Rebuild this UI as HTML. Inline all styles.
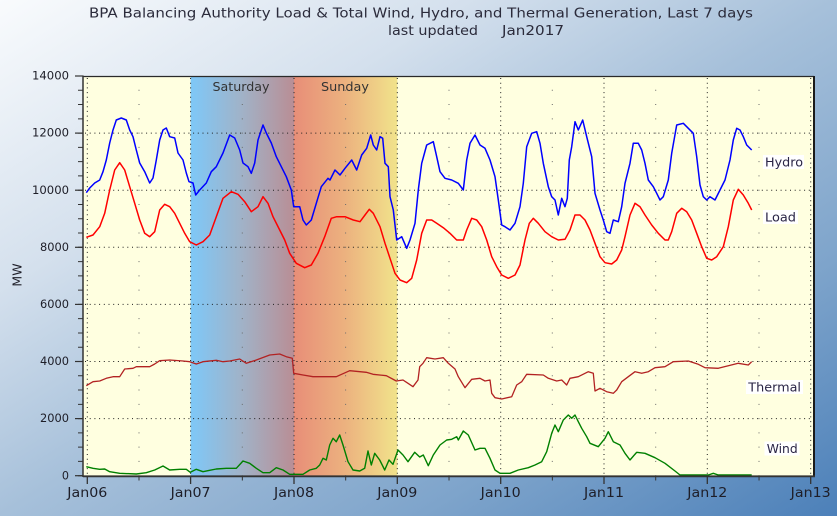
<!DOCTYPE html>
<html>
<head>
<meta charset="utf-8">
<style>
  html,body{margin:0;padding:0;}
  body{width:837px;height:516px;overflow:hidden;
    background:linear-gradient(to bottom right,#f9fbfd 0%,#d4e0ed 28%,#a6c0da 50%,#7ea4cb 75%,#4c80b9 100%);}
  svg{display:block;}
  text{font-family:"DejaVu Sans","Liberation Sans",sans-serif;}
</style>
</head>
<body>
<svg width="837" height="516" viewBox="0 0 837 516" xmlns="http://www.w3.org/2000/svg">
  <defs>
    <linearGradient id="sat" x1="0" y1="0" x2="1" y2="0">
      <stop offset="0" stop-color="#7ec8f8"/>
      <stop offset="0.5" stop-color="#a1b2c7"/>
      <stop offset="1" stop-color="#b98e95"/>
    </linearGradient>
    <linearGradient id="sun" x1="0" y1="0" x2="1" y2="0">
      <stop offset="0" stop-color="#e88e78"/>
      <stop offset="0.5" stop-color="#ecb27f"/>
      <stop offset="1" stop-color="#f1e38b"/>
    </linearGradient>
  </defs>

  <!-- Title -->
  <text x="89" y="17.5" font-size="13" fill="#2b2b3b" textLength="664" lengthAdjust="spacingAndGlyphs">BPA Balancing Authority Load &amp; Total Wind, Hydro, and Thermal Generation, Last 7 days</text>
  <text x="388" y="35" font-size="13" fill="#2b2b3b" textLength="90" lengthAdjust="spacingAndGlyphs">last updated</text>
  <text x="502" y="35" font-size="13" fill="#2b2b3b" textLength="62" lengthAdjust="spacingAndGlyphs">Jan2017</text>

  <!-- Plot background -->
  <rect x="83" y="76" width="731" height="400" fill="#ffffe0"/>
  <rect x="190.6" y="76" width="103.4" height="400" fill="url(#sat)"/>
  <rect x="294" y="76" width="103.3" height="400" fill="url(#sun)"/>

  <!-- Sparse half-day dots -->
  <g stroke="#6a6a6a" stroke-width="1" stroke-dasharray="1 13.275">
    <line x1="139" y1="476.2" x2="139" y2="76"/>
    <line x1="242.3" y1="476.2" x2="242.3" y2="76"/>
    <line x1="345.6" y1="476.2" x2="345.6" y2="76"/>
    <line x1="449" y1="476.2" x2="449" y2="76"/>
    <line x1="552.3" y1="476.2" x2="552.3" y2="76"/>
    <line x1="655.7" y1="476.2" x2="655.7" y2="76"/>
    <line x1="759" y1="476.2" x2="759" y2="76"/>
  </g>

  <!-- Dense grid -->
  <g stroke="#1e1e1e" stroke-width="1" stroke-dasharray="1 3.7">
    <line x1="87.3" y1="78" x2="87.3" y2="476"/>
    <line x1="190.6" y1="78" x2="190.6" y2="476"/>
    <line x1="294" y1="78" x2="294" y2="476"/>
    <line x1="397.3" y1="78" x2="397.3" y2="476"/>
    <line x1="500.7" y1="78" x2="500.7" y2="476"/>
    <line x1="604" y1="78" x2="604" y2="476"/>
    <line x1="707.3" y1="78" x2="707.3" y2="476"/>
    <line x1="810.7" y1="78" x2="810.7" y2="476"/>
    <line x1="85" y1="418.6" x2="814" y2="418.6"/>
    <line x1="85" y1="361.5" x2="814" y2="361.5"/>
    <line x1="85" y1="304.4" x2="814" y2="304.4"/>
    <line x1="85" y1="247.3" x2="814" y2="247.3"/>
    <line x1="85" y1="190.2" x2="814" y2="190.2"/>
    <line x1="85" y1="133.1" x2="814" y2="133.1"/>
  </g>

  <!-- Day labels -->
  <text x="212.5" y="91" font-size="12" fill="#333" textLength="57" lengthAdjust="spacingAndGlyphs">Saturday</text>
  <text x="321" y="91" font-size="12" fill="#333" textLength="48" lengthAdjust="spacingAndGlyphs">Sunday</text>

  <!-- Series -->
  <g fill="none" stroke-width="1.5" stroke-linejoin="round">
    <polyline stroke="#0000ff" points="86.3,192.7 89.7,188 94.7,183 99.7,180 103,171.7 106.3,160 109.7,143 113,130 116.3,120 121.3,118 126.3,120 129.7,130 133,136.7 136.3,150 139.7,163 144.7,171.7 149.7,183 153,178 156.3,160 159.7,140 163,130 166.3,128 169.7,136.7 174.7,138 178,153 183,160 186.3,173 189,181.7 193,183 195.7,195 199.7,190 206.3,183 211.3,171.7 216.3,166.7 223,153 229.7,135 234.7,138 239.7,150 243,163 248,166.7 251.3,173.3 254.7,163 258,140 263,125 266.3,133 271.3,143 276.3,156.7 281.3,166.7 286.3,176.7 291.3,190 293.7,206.7 299.7,206.7 303,220 306.3,225 311.3,220 316.3,203.3 321.3,186.7 328,178.3 330,180 335,170 340,175 345,168.3 351.7,160 356.7,170 361.7,155 366.7,148.3 370.7,135 373.3,145 376.7,150 380,136.7 382.7,138.3 385,163.3 388.3,166.7 390,196.7 393.3,210 396.7,240 401.7,236.7 406.7,248.3 410,240 415,223.3 418.3,190 421.7,163.3 426.7,145 433.3,141.7 436.7,156.7 440,171.7 445,178.3 451.7,180 458.3,183.3 463.3,190 466.7,160 470,143.3 475,135 480,145 485,148.3 490,160 495,176.7 498.3,200 501.7,225 505,226.7 510,230 515,223.3 520,206.7 523.3,183.3 526.7,146.7 531.7,133.3 536.7,131.7 540,143.3 543.3,163.3 548.3,186.7 551.7,196.7 555,200 558.3,215 561.7,198.3 565,206.7 567.3,198.3 569.3,160 571.7,146.7 575,121.7 578.3,130 582.7,120 586.7,136.7 591.7,156.7 595,193.3 600,210 603.3,220 606.7,231.7 610,233.3 613.3,220 618.3,221.7 621.7,206.7 625,183.3 630,163.3 633.3,143.3 638.3,143.3 641.7,150 645,163.3 648.3,180 653.3,186.7 656.7,193.3 660,200 663.3,196.7 668.3,180 671.7,153.3 676.7,125 683.3,123.3 688.3,128.3 693.3,133.3 696.7,156.7 700,185 703.3,196.7 706.7,200 710,196.7 715,200 720,190 725,180 730,160 733.3,140 736.7,128.3 740,130 743.3,136.7 746.7,145 751.7,150"/>
    <polyline stroke="#ff0000" points="86.3,237.3 93,235 99.7,226.7 104.7,213.3 109.7,190 114.7,170 119.7,162.7 124.7,170 129.7,186.7 134.7,203.3 139.7,220 144.7,233.3 149.7,236.7 154.7,231.7 159.7,210 164.7,204.3 169.7,206.7 174.7,213.3 179.7,223.3 184.7,233.3 189.7,241.7 196.3,245 203,241.7 209.7,235 216.3,216.7 223,198.3 231.3,191.7 238,194.3 244.7,201.7 251.3,211.7 258,206.7 263,196.7 268,203.3 273,216.7 279.7,230 284.7,240 289.7,253.3 296.3,263.3 304.7,267.7 311.3,265 318,253.3 324.7,236.7 331.3,218.3 336.7,216.7 345,216.7 353.3,220 360,221.7 365,215 369.3,209.3 373.3,213.3 380,226.7 385,243.3 390,258.3 395,273.3 400,280 406.7,282.7 411.7,278.3 416.7,260 421.7,233.3 426.7,220 431.7,220 436.7,223.3 443.3,227.7 450,233.3 456.7,240 463.3,240 466.7,230 471.7,218.3 476.7,220 481.7,226.7 486.7,240 491.7,256.7 496.7,266.7 501.7,275 508.3,278.3 515,275 520,265 525,240 529.3,223.3 533.3,218.3 538.3,223.3 545,231.7 551.7,236.7 558.3,240 565,239.3 570,230 575,215 580,215 585,220 590,230 595,243.3 600,256.7 605,262.7 611.7,264 616.7,260 621.7,250 625,236.7 630,215 635,203.3 640,206.7 645,215 651.7,225 658.3,233.3 665,240 668.3,240 671.7,231.7 676.7,213.3 681.7,208.3 686.7,211.7 691.7,220 696.7,233.3 701.7,246.7 706.7,258.3 711.7,260 716.7,256.7 723.3,246.7 728.3,226.7 733.3,200 738.3,189.3 743.3,195 748.3,203.3 751.7,210"/>
    <polyline stroke="#b22222" stroke-width="1.3" points="86.3,385.7 93,381.7 99.7,381 106.3,378.3 113,376.7 119.7,376.7 124.7,369 133,368.3 136.3,366.7 149.7,366.7 154.7,364 159.7,360.7 169.7,360 183,361 189.7,361.7 196.3,364 203,361.7 216.3,360.3 223,361.7 229.7,361 239.7,359 246.3,363.3 256.3,360 269.7,355 279.7,354 286.3,356.7 292.3,358.3 293.7,373.3 303,375 313,376.7 326.3,376.7 336.3,376.7 349.7,370.7 366.3,372.3 373,374.3 386.3,375.7 396.3,381 403,380 408,383.3 413,386.7 418,380 419.7,366.7 423,363.3 426.7,357.7 435,359 443.3,357.7 448.3,363.3 455,369 458.3,376.7 465,387.7 471.7,379.3 480,378.3 485,381 490,380 491.7,393.3 495,397.7 501.7,399 511.7,396.7 516.7,385 521.7,381.7 526.7,374.3 543.3,375 548.3,378.3 556.7,381 561.7,380 566.7,385 570,378.3 578.3,376.7 588.3,371.7 593.3,373.3 595,391 600,388.3 606.7,391.7 613.3,393.3 616.7,390 621.7,381.7 628.3,376.7 635,371.7 641.7,373.3 648.3,371.7 655,367.7 665,366.7 673.3,361.7 688.3,361 698.3,364.3 705,367.7 718.3,368.3 728.3,365.7 738.3,363.3 748.3,365 751.7,361.7"/>
    <polyline stroke="#008000" stroke-width="1.4" points="86.3,466.7 93,468.3 99.7,469.3 104.7,469 109.7,471.7 119.7,473.3 136.3,474 146.3,472.7 154.7,470 163,466 169.7,470 179.7,469.3 186.3,469.3 190.3,472.3 196.3,469.3 203,471.7 209.7,470.3 216.3,469 226.3,468.3 236.3,468.3 243,461 249.7,463.3 256.3,468.3 263,472.7 269.7,472.7 276.3,467.7 283,470 289.7,474.3 303,474.3 309.7,470 316.3,468.3 319.7,465 323,458.3 326.3,460 329.7,445 333,438.3 336.3,441.7 339.7,435 343,445 348,461.7 353,470 359.7,471 364.7,468.3 368,451 371.3,465 374.7,453.3 379.7,460 384.7,470 389,460 393,464.3 398,450 403,455 408,461.7 414.7,452.3 419.7,457 423.3,455 428.3,465.7 433.3,455 440,445 446.7,440 451.7,439.3 456.7,436.7 458.3,440 463.3,431 468.3,435 475,450 480,448.3 485,448.3 490,458.3 495,470 500,473.3 510,473.3 518.3,470 528.3,467.7 535,465 541.7,461.7 546.7,451.7 551.7,433.3 555,425 558.3,431.7 563.3,420 568.3,415 571.7,418.3 575,415 578.3,421.7 581.7,428.3 586.7,436.7 590,443.3 598.3,446.7 605,438.3 608.3,431.7 613.3,441.7 620,445 625,453.3 630,460 636.7,452.3 645,453.3 655,457.7 665,463.3 675,471 680,475 708.3,475 713.3,473.3 718.3,475 751.7,475"/>
  </g>

  <!-- Series labels -->
  <g font-size="12.5" fill="#2a2545">
    <rect x="763" y="155" width="41" height="14" fill="#ffffff"/>
    <text x="765" y="166.5" textLength="38" lengthAdjust="spacingAndGlyphs">Hydro</text>
    <rect x="763" y="210" width="35" height="14" fill="#ffffff"/>
    <text x="765" y="221.5" textLength="31" lengthAdjust="spacingAndGlyphs">Load</text>
    <rect x="746" y="380" width="57" height="14" fill="#ffffff"/>
    <text x="748.3" y="391.5" textLength="52.7" lengthAdjust="spacingAndGlyphs">Thermal</text>
    <rect x="764.5" y="441.5" width="35" height="14" fill="#ffffff"/>
    <text x="766.7" y="453" textLength="31" lengthAdjust="spacingAndGlyphs">Wind</text>
  </g>

  <!-- Frame / axes -->
  <line x1="83" y1="76.5" x2="814" y2="76.5" stroke="#2a2a2a" stroke-width="1.2"/>
  <line x1="814" y1="76" x2="814" y2="477" stroke="#1a1a1a" stroke-width="2"/>
  <line x1="83" y1="476.3" x2="815" y2="476.3" stroke="#333" stroke-width="1.8"/>
  <line x1="83" y1="75.5" x2="83" y2="477" stroke="#333" stroke-width="1.5"/>

  <!-- Y minor ticks -->
  <line x1="80.5" y1="476.2" x2="80.5" y2="76" stroke="#333" stroke-width="5" stroke-dasharray="1 13.275"/>
  <!-- Y major ticks -->
  <g stroke="#333" stroke-width="1.2">
    <line x1="75" y1="475.7" x2="83" y2="475.7"/>
    <line x1="75" y1="418.6" x2="83" y2="418.6"/>
    <line x1="75" y1="361.5" x2="83" y2="361.5"/>
    <line x1="75" y1="304.4" x2="83" y2="304.4"/>
    <line x1="75" y1="247.3" x2="83" y2="247.3"/>
    <line x1="75" y1="190.2" x2="83" y2="190.2"/>
    <line x1="75" y1="133.1" x2="83" y2="133.1"/>
    <line x1="75" y1="76" x2="83" y2="76"/>
  </g>

  <!-- X minor ticks -->
  <line x1="138.5" y1="478.5" x2="812" y2="478.5" stroke="#333" stroke-width="4" stroke-dasharray="1 102.34"/>
  <!-- X major ticks -->
  <g stroke="#333" stroke-width="1.3">
    <line x1="87.3" y1="476" x2="87.3" y2="484"/>
    <line x1="190.6" y1="476" x2="190.6" y2="484"/>
    <line x1="294" y1="476" x2="294" y2="484"/>
    <line x1="397.3" y1="476" x2="397.3" y2="484"/>
    <line x1="500.7" y1="476" x2="500.7" y2="484"/>
    <line x1="604" y1="476" x2="604" y2="484"/>
    <line x1="707.3" y1="476" x2="707.3" y2="484"/>
    <line x1="810.7" y1="476" x2="810.7" y2="484"/>
  </g>

  <!-- Y labels -->
  <g font-size="11.2" fill="#1e1e28" text-anchor="end">
    <text x="69" y="479.5">0</text>
    <text x="69" y="422.2" textLength="29" lengthAdjust="spacingAndGlyphs">2000</text>
    <text x="69" y="365.1" textLength="29" lengthAdjust="spacingAndGlyphs">4000</text>
    <text x="69" y="308" textLength="29" lengthAdjust="spacingAndGlyphs">6000</text>
    <text x="69" y="250.9" textLength="29" lengthAdjust="spacingAndGlyphs">8000</text>
    <text x="69" y="193.8" textLength="37" lengthAdjust="spacingAndGlyphs">10000</text>
    <text x="69" y="136.7" textLength="37" lengthAdjust="spacingAndGlyphs">12000</text>
    <text x="69" y="79.6" textLength="37" lengthAdjust="spacingAndGlyphs">14000</text>
  </g>
  <text transform="translate(21.5,275) rotate(-90)" font-size="12.5" fill="#1e1e28" text-anchor="middle">MW</text>

  <!-- X labels -->
  <g font-family="'Liberation Mono',monospace" font-size="13.5" fill="#1e1e28" style="font-family:'Liberation Mono',monospace">
    <text x="67.3" y="497" textLength="40" lengthAdjust="spacingAndGlyphs">Jan06</text>
    <text x="170.6" y="497" textLength="40" lengthAdjust="spacingAndGlyphs">Jan07</text>
    <text x="274" y="497" textLength="40" lengthAdjust="spacingAndGlyphs">Jan08</text>
    <text x="377.3" y="497" textLength="40" lengthAdjust="spacingAndGlyphs">Jan09</text>
    <text x="480.7" y="497" textLength="40" lengthAdjust="spacingAndGlyphs">Jan10</text>
    <text x="584" y="497" textLength="40" lengthAdjust="spacingAndGlyphs">Jan11</text>
    <text x="687.3" y="497" textLength="40" lengthAdjust="spacingAndGlyphs">Jan12</text>
    <text x="790.7" y="497" textLength="40" lengthAdjust="spacingAndGlyphs">Jan13</text>
  </g>
</svg>
</body>
</html>
